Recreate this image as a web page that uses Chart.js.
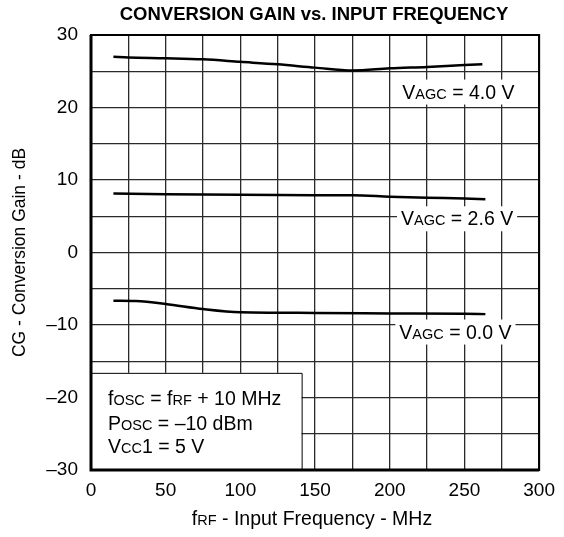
<!DOCTYPE html>
<html>
<head>
<meta charset="utf-8">
<script src="https://cdn.jsdelivr.net/npm/chart.js@4/dist/chart.umd.min.js"></script>
<style>
  body { margin: 0; background: #fff; }
  #wrap { width: 564px; height: 537px; }
</style>
</head>
<body>
<div id="wrap"><canvas id="cg-chart" width="564" height="537"></canvas></div>
<script>
// frequencies (MHz) and conversion gain (dB)
var freqAgc40 = [15, 25, 50, 75, 100, 125, 150, 175, 200, 225, 250, 262];
var gainAgc40 = [27.0, 26.9, 26.8, 26.65, 26.3, 25.95, 25.5, 25.1, 25.4, 25.6, 25.85, 25.95];

var freqAgc26 = [15, 50, 100, 150, 175, 200, 225, 250, 264];
var gainAgc26 = [8.15, 8.05, 7.95, 7.9, 7.9, 7.7, 7.55, 7.45, 7.35];

var freqAgc00 = [15, 30, 50, 75, 100, 125, 150, 200, 250, 264];
var gainAgc00 = [-6.65, -6.7, -7.1, -7.8, -8.25, -8.3, -8.35, -8.4, -8.45, -8.5];

var xTickLabels = [0, 50, 100, 150, 200, 250, 300];
var yTickLabels = [-30, -20, -10, 0, 10, 20, 30];

var FONT = "'Liberation Sans', Arial, sans-serif";
var BIG = 19.5, SUB = 14.5;

function pts(xs, ys) {
  return xs.map(function (x, i) { return { x: x, y: ys[i] }; });
}

function curve(xs, ys) {
  return {
    data: pts(xs, ys),
    borderColor: '#000',
    borderWidth: 2.5,
    pointRadius: 0,
    fill: false,
    cubicInterpolationMode: 'monotone'
  };
}

function partsWidth(ctx, parts) {
  var w = 0;
  parts.forEach(function (p) {
    ctx.font = p[1] + 'px ' + FONT;
    w += ctx.measureText(p[0]).width;
  });
  return w;
}

// draws a run of text pieces with different sizes on one baseline
function drawParts(ctx, parts, x, y, align) {
  var cx = x;
  if (align === 'center') cx = x - partsWidth(ctx, parts) / 2;
  ctx.textAlign = 'left';
  ctx.textBaseline = 'alphabetic';
  parts.forEach(function (p) {
    ctx.font = p[1] + 'px ' + FONT;
    ctx.fillText(p[0], cx, y);
    cx += ctx.measureText(p[0]).width;
  });
}

var agcLabels = [
  { f: 208.4, g: 22.2, parts: [['V', BIG], ['AGC', SUB], [' = 4.0 V', BIG]] },
  { f: 207.5, g: 4.72, parts: [['V', BIG], ['AGC', SUB], [' = 2.6 V', BIG]] },
  { f: 206.4, g: -10.9, parts: [['V', BIG], ['AGC', SUB], [' = 0.0 V', BIG]] }
];

var notesPlugin = {
  id: 'notes',
  beforeDatasetsDraw: function (chart) {
    var ctx = chart.ctx, xs = chart.scales.x, ys = chart.scales.y;
    ctx.save();
    // condition box, lower left
    var bx0 = xs.getPixelForValue(0), bx1 = xs.getPixelForValue(141);
    var by0 = ys.getPixelForValue(-16.6), by1 = ys.getPixelForValue(-30);
    ctx.fillStyle = '#fff';
    ctx.fillRect(bx0, by0, bx1 - bx0, by1 - by0);
    ctx.strokeStyle = '#000';
    ctx.lineWidth = 1;
    ctx.beginPath();
    ctx.moveTo(bx0, by0 + 0.5);
    ctx.lineTo(bx1 + 0.5, by0 + 0.5);
    ctx.lineTo(bx1 + 0.5, by1);
    ctx.stroke();
    ctx.fillStyle = '#000';
    var tx = bx0 + 17;
    drawParts(ctx, [['f', BIG], ['OSC', SUB], [' = f', BIG], ['RF', SUB], [' + 10 MHz', BIG]], tx, by0 + 32);
    drawParts(ctx, [['P', BIG], ['OSC', SUB], [' = \u201310 dBm', BIG]], tx, by0 + 57);
    drawParts(ctx, [['V', BIG], ['CC', SUB], ['1 = 5 V', BIG]], tx, by0 + 80);

    // VAGC labels with white backing over the grid
    agcLabels.forEach(function (l) {
      var lx = xs.getPixelForValue(l.f), ly = ys.getPixelForValue(l.g);
      var w = partsWidth(ctx, l.parts);
      ctx.fillStyle = '#fff';
      ctx.fillRect(lx - 4, ly - 12, w + 8, 25);
      ctx.fillStyle = '#000';
      drawParts(ctx, l.parts, lx, ly + 7);
    });
    ctx.restore();
  },
  afterDraw: function (chart) {
    var ctx = chart.ctx, a = chart.chartArea;
    ctx.save();
    // frame
    ctx.strokeStyle = '#000';
    ctx.lineWidth = 2;
    ctx.strokeRect(a.left, a.top, a.right - a.left, a.bottom - a.top);
    ctx.lineWidth = 3;
    ctx.beginPath();
    ctx.moveTo(a.left, a.top);
    ctx.lineTo(a.left, a.bottom);
    ctx.lineTo(a.right, a.bottom);
    ctx.stroke();
    // title
    ctx.fillStyle = '#000';
    ctx.font = 'bold 18.5px ' + FONT;
    ctx.textAlign = 'center';
    ctx.textBaseline = 'alphabetic';
    ctx.fillText('CONVERSION GAIN vs. INPUT FREQUENCY', 314, 20);
    // x axis title
    drawParts(ctx, [['f', BIG], ['RF', SUB], [' - Input Frequency - MHz', BIG]], 312, 525, 'center');
    ctx.restore();
  }
};

new Chart(document.getElementById('cg-chart'), {
  type: 'line',
  data: {
    datasets: [
      curve(freqAgc40, gainAgc40),
      curve(freqAgc26, gainAgc26),
      curve(freqAgc00, gainAgc00)
    ]
  },
  options: {
    responsive: false,
    animation: false,
    layout: { padding: { top: 35, right: 24, left: 0, bottom: 0 } },
    plugins: {
      legend: { display: false },
      title: { display: false },
      tooltip: { enabled: false }
    },
    scales: {
      x: {
        type: 'linear',
        min: 0,
        max: 300,
        afterFit: function (s) { s.height = 67; },
        grid: { color: '#2a2a2a', lineWidth: 1.3, drawTicks: false },
        border: { display: false },
        ticks: {
          stepSize: 25,
          padding: 9,
          color: '#000',
          maxRotation: 0,
          autoSkip: false,
          font: { family: FONT, size: 19 },
          callback: function (v) { return xTickLabels.indexOf(v) >= 0 ? String(v) : ''; }
        }
      },
      y: {
        min: -30,
        max: 30,
        afterFit: function (s) { s.width = 91; },
        grid: { color: '#2a2a2a', lineWidth: 1.3, drawTicks: false },
        border: { display: false },
        title: {
          display: true,
          text: 'CG - Conversion Gain - dB',
          color: '#000',
          padding: { top: 10 },
          font: { family: FONT, size: 17.5 }
        },
        ticks: {
          stepSize: 5,
          padding: 13,
          color: '#000',
          autoSkip: false,
          font: { family: FONT, size: 19 },
          callback: function (v) {
            return yTickLabels.indexOf(v) >= 0 ? String(v).replace('-', '\u2013') : '';
          }
        }
      }
    }
  },
  plugins: [notesPlugin]
});
</script>
</body>
</html>
